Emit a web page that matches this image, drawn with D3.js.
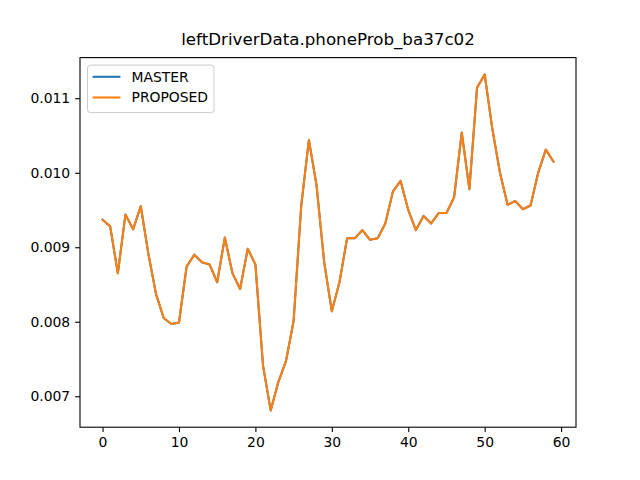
<!DOCTYPE html>
<meta charset="utf-8">
<html>
<head>
  <script src="https://d3js.org/d3.v7.min.js" charset="utf-8"></script>
</head>
<style>
body { margin: 0; background: white; }
svg text { font-family: "DejaVu Sans", sans-serif; fill: black; }
</style>
<body>
<div id="container"></div>
<script type="text/javascript">

var titleText = "leftDriverData.phoneProb_ba37c02"
var seriesNames = ["MASTER", "PROPOSED"]
var seriesColors = ["#1f77b4", "#ff7f0e"]

var phoneProb = [
  0.00937, 0.00928, 0.00865, 0.00944, 0.00924, 0.00955, 0.00891, 0.00837, 0.00805, 0.00797,
  0.00799, 0.00874, 0.00890, 0.00880, 0.00877, 0.00853, 0.00913, 0.00865, 0.00844, 0.00898,
  0.00877, 0.00741, 0.00681, 0.00719, 0.00747, 0.00801, 0.00956, 0.01044, 0.00983, 0.00880,
  0.00814, 0.00853, 0.00912, 0.00912, 0.00923, 0.00910, 0.00912, 0.00932, 0.00975, 0.00989,
  0.00950, 0.00923, 0.00942, 0.00932, 0.00946, 0.00946, 0.00967, 0.01054, 0.00978, 0.01114,
  0.01132, 0.01059, 0.01000, 0.00957, 0.00962, 0.00951, 0.00956, 0.01000, 0.01031, 0.01015
]
// both runs gave identical values, so PROPOSED hides MASTER
var masterValues = phoneProb.slice()
var proposedValues = phoneProb.slice()

var xTicks = [0, 10, 20, 30, 40, 50, 60]
var yTicks = [0.007, 0.008, 0.009, 0.010, 0.011]

var width = 640
var height = 480
var margin = {left: 80, right: 64, top: 57.6, bottom: 52.8}
var fs = 13.9

const svg = d3.select("#container")
              .append("svg")
              .attr("width", width)
              .attr("height", height)

var xIdx = d3.range(phoneProb.length)
var xMin = 0, xMax = phoneProb.length - 1
var xPad = (xMax - xMin) * 0.05
var x = d3.scaleLinear()
          .domain([xMin - xPad, xMax + xPad])
          .range([margin.left, width - margin.right])

var allVals = masterValues.concat(proposedValues)
var yMin = d3.min(allVals), yMax = d3.max(allVals)
var yPad = (yMax - yMin) * 0.05
var y = d3.scaleLinear()
          .domain([yMin - yPad, yMax + yPad])
          .range([height - margin.bottom, margin.top])

var xAxis = d3.axisBottom(x).tickValues(xTicks).tickSize(4.9).tickPadding(4.9).tickFormat(d3.format("d"))
var yAxis = d3.axisLeft(y).tickValues(yTicks).tickSize(4.9).tickPadding(4.9).tickFormat(d3.format(".3f"))

svg.append("g")
   .attr("transform", "translate(0," + (height - margin.bottom) + ")")
   .call(xAxis)
   .call(g => g.select(".domain").remove())
   .call(g => g.selectAll("line").attr("stroke-width", 1.1))
   .call(g => g.selectAll("text").attr("font-size", fs + "px"))

svg.append("g")
   .attr("transform", "translate(" + margin.left + ",0)")
   .call(yAxis)
   .call(g => g.select(".domain").remove())
   .call(g => g.selectAll("line").attr("stroke-width", 1.1))
   .call(g => g.selectAll("text").attr("font-size", fs + "px"))

var line = d3.line()
             .x((d, i) => x(xIdx[i]))
             .y((d) => y(d))

;[masterValues, proposedValues].forEach(function(vals, k) {
  svg.append("path")
     .datum(vals)
     .attr("d", line)
     .attr("fill", "none")
     .attr("stroke", seriesColors[k])
     .attr("stroke-width", 2.08)
     .attr("stroke-linejoin", "round")
     .attr("stroke-linecap", "square")
})

// spines
svg.append("rect")
   .attr("x", margin.left)
   .attr("y", margin.top)
   .attr("width", width - margin.left - margin.right)
   .attr("height", height - margin.top - margin.bottom)
   .attr("fill", "none")
   .attr("stroke", "black")
   .attr("stroke-width", 1.1)

svg.append("text")
   .attr("x", (margin.left + width - margin.right) / 2)
   .attr("y", margin.top - 8.3 - 4)
   .attr("text-anchor", "middle")
   .attr("font-size", "16.7px")
   .text(titleText)

// legend
var legend = svg.append("g")
                .attr("transform", "translate(" + (margin.left + 7) + "," + (margin.top + 7) + ")")

legend.append("rect")
      .attr("x", 0.5)
      .attr("y", 0.5)
      .attr("width", 126.5)
      .attr("height", 47.5)
      .attr("rx", 3)
      .attr("fill", "white")
      .attr("fill-opacity", 0.8)
      .attr("stroke", "#cccccc")
      .attr("stroke-width", 1)

legend.selectAll(".legend-line")
      .data(seriesNames)
      .enter()
      .append("line")
      .attr("x1", 5.6)
      .attr("x2", 5.6 + 27.8)
      .attr("y1", (d, i) => 12.2 + i * 20.7)
      .attr("y2", (d, i) => 12.2 + i * 20.7)
      .attr("stroke", (d, i) => seriesColors[i])
      .attr("stroke-width", 2.08)

legend.selectAll(".legend-text")
      .data(seriesNames)
      .enter()
      .append("text")
      .attr("x", 5.6 + 27.8 + 11.1)
      .attr("y", (d, i) => 12.2 + i * 20.7)
      .attr("dominant-baseline", "central")
      .attr("font-size", fs + "px")
      .text((d) => d)

</script>
</body>
</html>
